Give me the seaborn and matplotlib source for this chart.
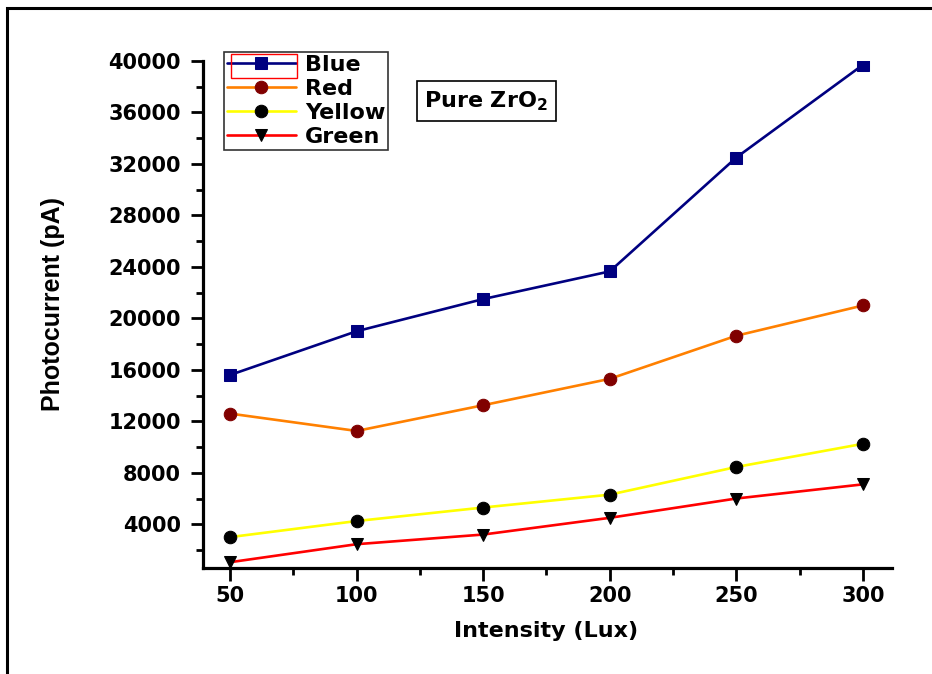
import matplotlib
matplotlib.use('Agg')
import matplotlib.pyplot as plt
import matplotlib.patches as mpatches
from matplotlib.ticker import MultipleLocator
import seaborn as sns
import pandas as pd

# данные
intensity = [50, 100, 150, 200, 250, 300]
blue = [15600, 19000, 21500, 23650, 32500, 39700]
red = [12600, 11250, 13250, 15300, 18650, 21000]
yellow = [3000, 4250, 5300, 6300, 8450, 10250]
green = [1050, 2450, 3200, 4500, 6000, 7100]

labels = ['Blue', 'Red', 'Yellow', 'Green']
line_colors = ['#000080', '#FF8000', '#FFFF00', '#FF0000']
face_colors = ['#000080', '#800000', '#000000', '#000000']
markers = ['s', 'o', 'o', 'v']

df = pd.DataFrame({'Intensity': intensity, 'Blue': blue, 'Red': red,
                   'Yellow': yellow, 'Green': green})

sns.set_style('ticks', {'axes.edgecolor': 'black', 'text.color': 'black',
                        'xtick.color': 'black', 'ytick.color': 'black',
                        'axes.labelcolor': 'black'})
plt.rcParams['font.family'] = ['DejaVu Sans']

fig = plt.figure(figsize=(9.32, 6.74), dpi=100)
ax = fig.add_axes([203/932, 1 - 568/674, 689/932, 507/674])

for name, lc, fc, mk in zip(labels, line_colors, face_colors, markers):
    sns.lineplot(data=df, x='Intensity', y=name, ax=ax, color=lc, lw=1.9,
                 marker=mk, markersize=9, markerfacecolor=fc,
                 markeredgecolor=fc, label=name)

ax.set_xlim(39.3, 311.5)
ax.set_ylim(600, 40000)
ax.xaxis.set_major_locator(MultipleLocator(50))
ax.xaxis.set_minor_locator(MultipleLocator(25))
ax.yaxis.set_major_locator(MultipleLocator(4000))
ax.yaxis.set_minor_locator(MultipleLocator(2000))

for s in ['top', 'right']:
    ax.spines[s].set_visible(False)
for s in ['left', 'bottom']:
    ax.spines[s].set_linewidth(2.3)

ax.tick_params(which='major', direction='out', length=9, width=2, labelsize=15,
               colors='black')
ax.tick_params(which='minor', direction='out', length=5, width=2, colors='black')
ax.tick_params(axis='y', which='major', pad=7)
ax.tick_params(axis='x', which='major', pad=4)
for t in ax.get_xticklabels() + ax.get_yticklabels():
    t.set_fontweight('bold')

ax.set_xlabel('Intensity (Lux)', fontsize=16, fontweight='bold', color='black')
ax.set_ylabel('Photocurrent (pA)', fontsize=18, fontweight='bold', color='black',
              family=['Liberation Sans', 'DejaVu Sans'])
ax.xaxis.set_label_coords(0.498, -0.105)
ax.yaxis.set_label_coords(-0.200, 0.52)

leg = ax.legend(loc='upper left', bbox_to_anchor=(0.030, 1.018), borderaxespad=0,
                frameon=True, fancybox=False, edgecolor='black',
                prop={'weight': 'bold', 'size': 16}, handlelength=3.1,
                labelspacing=0.17, borderpad=0.15, handletextpad=0.4)
leg.get_frame().set_linewidth(1.2)
for t in leg.get_texts():
    t.set_color('black')

ax.text(0.411, 0.921, 'Pure ZrO$_\\mathbf{2}$', transform=ax.transAxes,
        ha='center', va='center', fontsize=16, fontweight='bold', color='black',
        bbox=dict(boxstyle='square,pad=0.35', fc='white', ec='black', lw=1.2))

# красная рамка вокруг первого элемента легенды
fig.patches.append(mpatches.Rectangle((231/932, 1 - 78/674), 66/932, 24/674,
                                      transform=fig.transFigure, fill=False,
                                      edgecolor='red', lw=1))
# внешняя рамка рисунка
fig.patches.append(mpatches.Rectangle((7/932, -0.1), 1.2, 1.1 - 8/674,
                                      transform=fig.transFigure, fill=False,
                                      edgecolor='black', lw=2.2))

fig.savefig('out.png', dpi=100)
